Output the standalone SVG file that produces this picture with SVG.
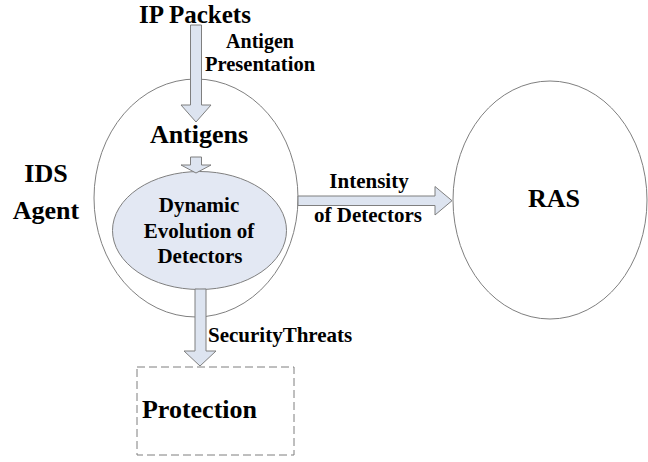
<svg xmlns="http://www.w3.org/2000/svg" width="648" height="462" viewBox="0 0 648 462">
<style>
text{font-family:'Liberation Serif','Times New Roman',serif;font-weight:700;fill:#000;}
.big{font-size:26px;}
.mid{font-size:21px;}
.c{text-anchor:middle;}
.ell{fill:#fff;stroke:#7f7f7f;stroke-width:1;}
.arrow{fill:#dde4f0;stroke:#7f7f7f;stroke-width:1;stroke-linejoin:miter;}
</style>
<rect width="648" height="462" fill="#fff"/>
<g id="ids-agent">
<ellipse class="ell" cx="196" cy="198" rx="102" ry="119"/>
<text class="big c" x="46" y="182">IDS</text>
<text class="big c" x="46" y="219">Agent</text>
</g>
<g id="ras">
<ellipse class="ell" cx="550" cy="200" rx="97" ry="119"/>
<text class="big c" x="554" y="207">RAS</text>
</g>
<g id="ip-packets">
<text class="c" x="195" y="22.5" font-size="25">IP Packets</text>
</g>
<g id="antigens">
<text class="big c" x="199" y="143">Antigens</text>
</g>
<g id="dynamic-evolution">
<ellipse cx="199.5" cy="230.5" rx="87" ry="59" fill="#e3e8f3" stroke="#7f7f7f" stroke-width="1"/>
<text class="mid c" x="199" y="212">Dynamic</text>
<text class="mid c" x="199" y="238">Evolution of</text>
<text class="mid c" x="200" y="263">Detectors</text>
</g>
<g id="protection">
<rect x="137" y="367" width="157" height="88" fill="none" stroke="#7f7f7f" stroke-width="1" stroke-dasharray="8,4"/>
<text class="big c" x="199.5" y="418">Protection</text>
</g>
<g id="connectors">
<polygon class="arrow" points="190.5,25 201.5,25 201.5,105 211,105 196,122 181,105 190.5,105"/>
<text class="c" x="260" y="48" font-size="20">Antigen</text>
<text class="c" x="260" y="70.5" font-size="20.5">Presentation</text>
<polygon class="arrow" points="190.5,157 201.5,157 201.5,165 211,165 196,173 181,165 190.5,165"/>
<polygon class="arrow" points="195,289 206,289 206,351 216,351 200,366 184,351 195,351"/>
<text class="mid" x="208" y="342">SecurityThreats</text>
<polygon class="arrow" points="298,196 435,196 435,186.5 452,200.7 435,215 435,205.5 298,205.5"/>
<text class="mid c" x="369" y="188">Intensity</text>
<text class="mid c" x="368" y="222">of Detectors</text>
</g>
</svg>
